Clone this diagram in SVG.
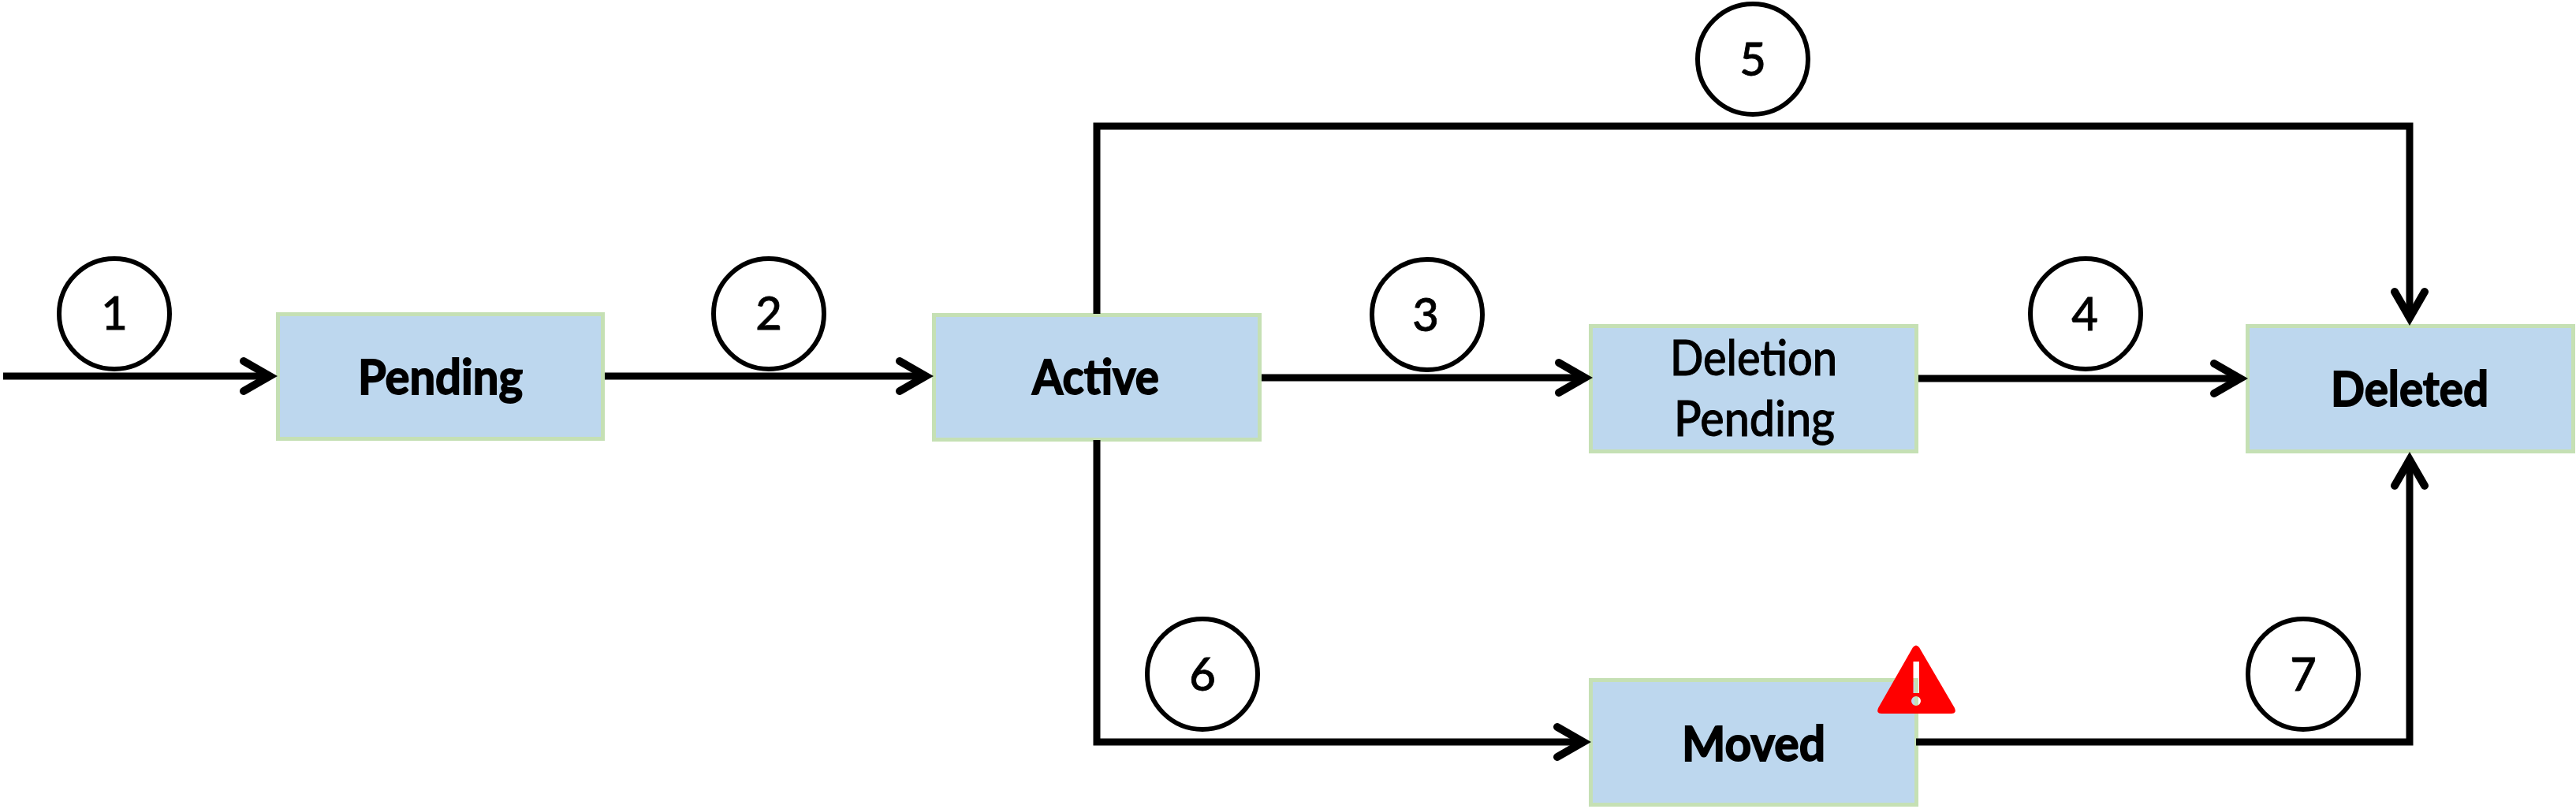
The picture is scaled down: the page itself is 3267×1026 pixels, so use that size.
<svg xmlns="http://www.w3.org/2000/svg" width="3267" height="1026" viewBox="0 0 3267 1026">
<style>
.box{fill:#BDD7EE;stroke:#C5E0B4;stroke-width:5}
.b{font-family:"Lato","Liberation Sans",sans-serif;font-weight:700;font-size:62px;fill:#000;stroke:#000;stroke-width:1.8}
.r{font-family:"Lato","Liberation Sans",sans-serif;font-weight:500;font-size:62px;fill:#000;stroke:#000;stroke-width:1}
.n{font-family:"Lato","Liberation Sans",sans-serif;font-weight:500;font-size:58px;fill:#000;stroke:#000;stroke-width:.8;text-anchor:middle}
.c{fill:#fff;stroke:#000;stroke-width:6}
.l{fill:none;stroke:#000;stroke-width:9;stroke-linejoin:miter}
</style>
<defs>
<marker id="arrow" markerUnits="userSpaceOnUse" markerWidth="60" markerHeight="60" refX="40" refY="30" orient="auto" viewBox="0 0 60 60">
<path d="M7,11 L40,30 L7,49" fill="none" stroke="#000" stroke-width="10" stroke-linecap="round" stroke-linejoin="miter" stroke-miterlimit="6"/>
</marker>
</defs>
<rect width="3267" height="1026" fill="#fff"/>
<g id="node-pending"><rect class="box" x="352.5" y="398.5" width="412" height="158"/><text class="b" x="454" y="500" textLength="209" lengthAdjust="spacingAndGlyphs">Pending</text></g>
<g id="node-active"><rect class="box" x="1184.5" y="399.5" width="413" height="158"/><text class="b" x="1309" y="500" textLength="161" lengthAdjust="spacingAndGlyphs">Active</text></g>
<g id="node-deletion-pending"><rect class="box" x="2017.5" y="413.5" width="413" height="159"/><text class="r" x="2118" y="476" textLength="212" lengthAdjust="spacingAndGlyphs">Deletion</text><text class="r" x="2123" y="553" textLength="204" lengthAdjust="spacingAndGlyphs">Pending</text></g>
<g id="node-deleted"><rect class="box" x="2850.5" y="413.5" width="413" height="159"/><text class="b" x="2956" y="515" textLength="200" lengthAdjust="spacingAndGlyphs">Deleted</text></g>
<g id="node-moved"><rect class="box" x="2017.5" y="862.5" width="413" height="158"/><text class="b" x="2133" y="965" textLength="182" lengthAdjust="spacingAndGlyphs">Moved</text></g>
<g id="connectors">
<path class="l" d="M4,477 H342" marker-end="url(#arrow)"/>
<path class="l" d="M767,477 H1174" marker-end="url(#arrow)"/>
<path class="l" d="M1600,479 H2010" marker-end="url(#arrow)"/>
<path class="l" d="M2433,480 H2841" marker-end="url(#arrow)"/>
<path class="l" d="M1391,398 V160 H3056 V403" marker-end="url(#arrow)"/>
<path class="l" d="M1391,558 V941 H2008" marker-end="url(#arrow)"/>
<path class="l" d="M2430,941 H3056 V583" marker-end="url(#arrow)"/>
</g>
<g id="step-1"><circle class="c" cx="145" cy="398" r="70"/><text class="n" x="145" y="418">1</text></g>
<g id="step-2"><circle class="c" cx="975" cy="398" r="70"/><text class="n" x="975" y="418">2</text></g>
<g id="step-3"><circle class="c" cx="1810" cy="399" r="70"/><text class="n" x="1808" y="420">3</text></g>
<g id="step-4"><circle class="c" cx="2645" cy="398" r="70"/><text class="n" x="2644" y="419">4</text></g>
<g id="step-5"><circle class="c" cx="2223" cy="75" r="70"/><text class="n" x="2223" y="96">5</text></g>
<g id="step-6"><circle class="c" cx="1525" cy="855" r="70"/><text class="n" x="1525" y="876">6</text></g>
<g id="step-7"><circle class="c" cx="2921" cy="855" r="70"/><text class="n" x="2921" y="876">7</text></g>
<g id="warning"><path fill="#FF0000" fill-rule="evenodd" d="M2426,821 Q2430,816 2434,821 L2479,898 Q2482,905 2475,905 L2386,905 Q2379,905 2382,898 Z M2426.5,839 H2434 V879 H2426.5 Z M2430,883 A6,6 0 1 0 2430,895 A6,6 0 1 0 2430,883 Z"/></g>
</svg>
